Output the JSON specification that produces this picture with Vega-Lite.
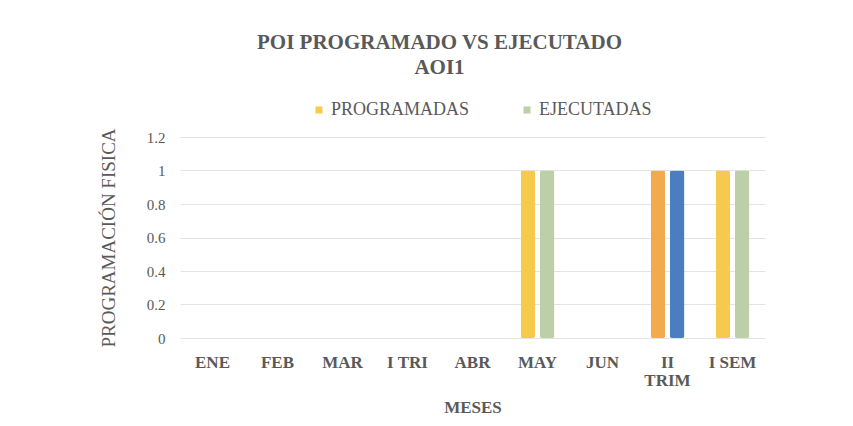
{
  "$schema": "https://vega.github.io/schema/vega-lite/v6.json",
  "width": 585,
  "height": 201,
  "autosize": {"type": "none"},
  "padding": {"left": 180, "top": 137, "right": 88, "bottom": 88},
  "background": "white",
  "title": {
    "text": ["POI PROGRAMADO VS EJECUTADO", "AOI1"],
    "fontSize": 21,
    "fontWeight": "bold",
    "color": "#595959",
    "lineHeight": 25,
    "anchor": "middle",
    "dx": -33,
    "offset": 23
  },
  "data": {
    "values": [
      {"mes": "ENE", "tipo": "PROGRAMADAS", "grupo": "PROGRAMADAS", "valor": 0},
      {"mes": "ENE", "tipo": "EJECUTADAS", "grupo": "EJECUTADAS", "valor": 0},
      {"mes": "FEB", "tipo": "PROGRAMADAS", "grupo": "PROGRAMADAS", "valor": 0},
      {"mes": "FEB", "tipo": "EJECUTADAS", "grupo": "EJECUTADAS", "valor": 0},
      {"mes": "MAR", "tipo": "PROGRAMADAS", "grupo": "PROGRAMADAS", "valor": 0},
      {"mes": "MAR", "tipo": "EJECUTADAS", "grupo": "EJECUTADAS", "valor": 0},
      {"mes": "I TRI", "tipo": "PROGRAMADAS", "grupo": "PROGRAMADAS", "valor": 0},
      {"mes": "I TRI", "tipo": "EJECUTADAS", "grupo": "EJECUTADAS", "valor": 0},
      {"mes": "ABR", "tipo": "PROGRAMADAS", "grupo": "PROGRAMADAS", "valor": 0},
      {"mes": "ABR", "tipo": "EJECUTADAS", "grupo": "EJECUTADAS", "valor": 0},
      {"mes": "MAY", "tipo": "PROGRAMADAS", "grupo": "PROGRAMADAS", "valor": 1},
      {"mes": "MAY", "tipo": "EJECUTADAS", "grupo": "EJECUTADAS", "valor": 1},
      {"mes": "JUN", "tipo": "PROGRAMADAS", "grupo": "PROGRAMADAS", "valor": 0},
      {"mes": "JUN", "tipo": "EJECUTADAS", "grupo": "EJECUTADAS", "valor": 0},
      {"mes": "II TRIM", "tipo": "PROGRAMADAS", "grupo": "PROGRAMADAS (II TRIM)", "valor": 1},
      {"mes": "II TRIM", "tipo": "EJECUTADAS", "grupo": "EJECUTADAS (II TRIM)", "valor": 1},
      {"mes": "I SEM", "tipo": "PROGRAMADAS", "grupo": "PROGRAMADAS", "valor": 1},
      {"mes": "I SEM", "tipo": "EJECUTADAS", "grupo": "EJECUTADAS", "valor": 1}
    ]
  },
  "mark": {"type": "bar", "cornerRadius": 2},
  "encoding": {
    "x": {
      "field": "mes",
      "type": "nominal",
      "sort": ["ENE", "FEB", "MAR", "I TRI", "ABR", "MAY", "JUN", "II TRIM", "I SEM"],
      "scale": {"paddingInner": 0.48, "paddingOuter": 0.24},
      "axis": {
        "title": "MESES",
        "titleFontSize": 17,
        "titleFontWeight": "bold",
        "titleColor": "#595959",
        "titlePadding": 11,
        "labelFontSize": 17,
        "labelFontWeight": "bold",
        "labelColor": "#595959",
        "labelAngle": 0,
        "labelPadding": 16,
        "labelLineHeight": 18,
        "labelExpr": "datum.label == 'II TRIM' ? ['II', 'TRIM'] : datum.label",
        "domain": false,
        "ticks": false,
        "grid": false
      }
    },
    "xOffset": {
      "field": "tipo",
      "type": "nominal",
      "sort": ["PROGRAMADAS", "EJECUTADAS"],
      "scale": {"paddingInner": 0.25}
    },
    "y": {
      "field": "valor",
      "type": "quantitative",
      "scale": {"domain": [0, 1.2], "nice": false},
      "axis": {
        "title": "PROGRAMACIÓN FISICA",
        "titleFontSize": 19,
        "titleFontWeight": "normal",
        "titleColor": "#595959",
        "titlePadding": 28,
        "labelFontSize": 15,
        "labelColor": "#595959",
        "labelPadding": 15,
        "values": [0, 0.2, 0.4, 0.6, 0.8, 1, 1.2],
        "format": "~g",
        "domain": false,
        "ticks": false,
        "gridColor": "#E3E3E3",
        "gridWidth": 1
      }
    },
    "color": {
      "field": "grupo",
      "type": "nominal",
      "scale": {
        "domain": ["PROGRAMADAS", "EJECUTADAS", "PROGRAMADAS (II TRIM)", "EJECUTADAS (II TRIM)"],
        "range": ["#F6CA4C", "#BDCFA6", "#F1AB4C", "#4A7EC0"]
      },
      "legend": {
        "values": ["PROGRAMADAS", "EJECUTADAS"],
        "title": null,
        "orient": "none",
        "direction": "horizontal",
        "legendX": 130,
        "legendY": -36,
        "symbolType": "square",
        "symbolSize": 49,
        "symbolStrokeWidth": 0,
        "labelFontSize": 18,
        "labelColor": "#595959",
        "labelOffset": 3,
        "columnPadding": 48
      }
    }
  },
  "config": {
    "font": "Liberation Serif",
    "view": {"stroke": null}
  }
}
